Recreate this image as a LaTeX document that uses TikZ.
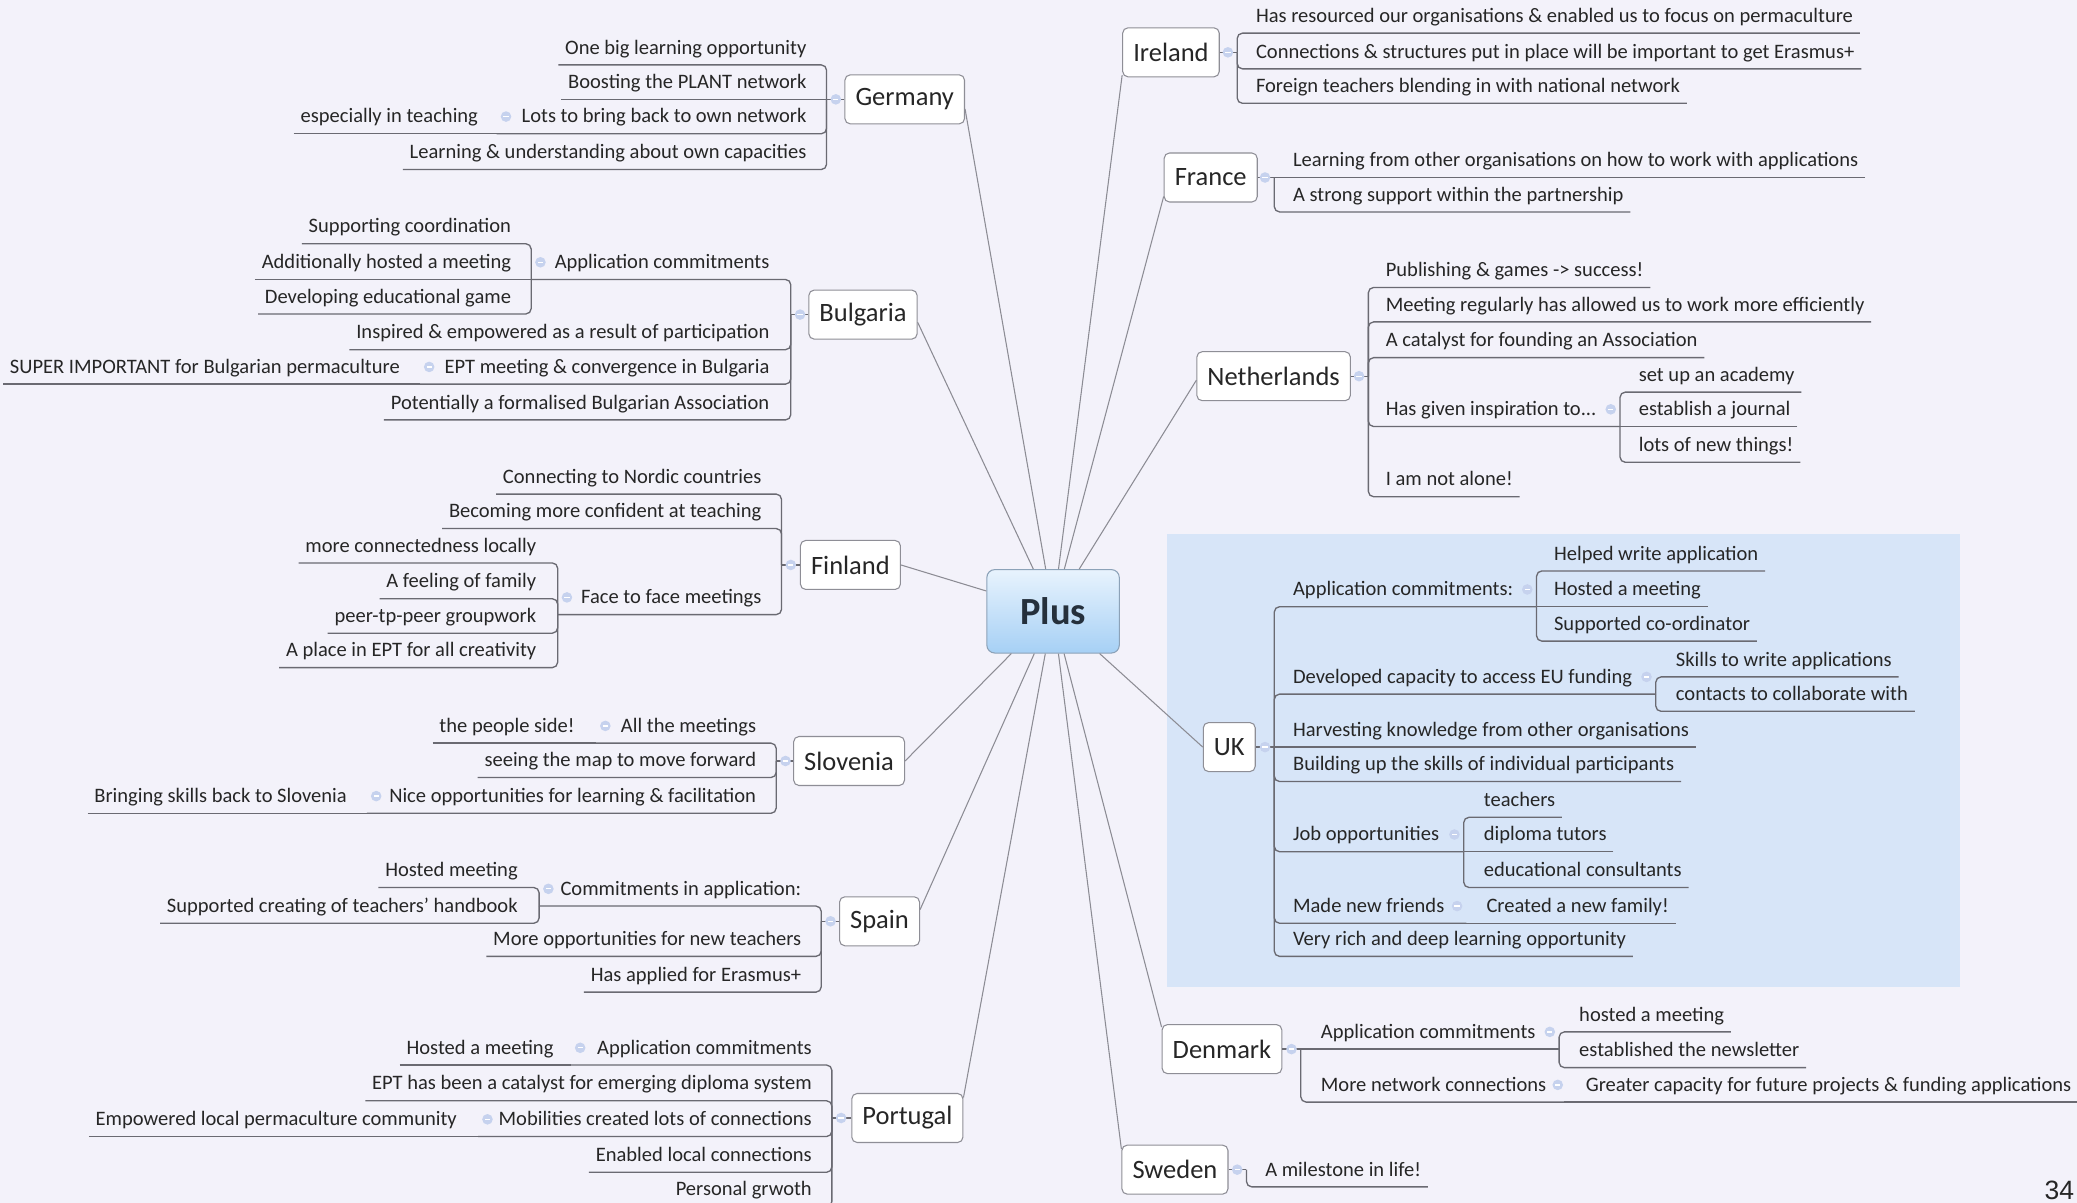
\documentclass[tikz,border=0pt]{standalone}
\usepackage{fontspec}
\setmainfont{Carlito}
\newfontfamily\pagefont{Liberation Sans}
\usepackage{tikz}

\definecolor{bg}{HTML}{F3F2FA}
\definecolor{area}{HTML}{D7E5F8}
\definecolor{txt}{HTML}{262626}
\definecolor{lnk}{HTML}{6A6A72}
\definecolor{spk}{HTML}{8C8C94}
\definecolor{boxline}{HTML}{8E8E96}
\definecolor{rootline}{HTML}{8CA2B8}
\definecolor{rootTop}{HTML}{E8F3FD}
\definecolor{rootBot}{HTML}{A6D0F5}
\definecolor{rootText}{HTML}{25303C}
\definecolor{foldfill}{HTML}{C6D2EE}

\tikzset{
  topic/.style={font=\fontsize{15.5}{18}\selectfont, text=txt, inner xsep=5pt, inner ysep=0pt, text height=11pt, text depth=8pt},
  ltopic/.style={topic, anchor=south east},
  rtopic/.style={topic, anchor=south west},
  country/.style={draw=boxline, fill=white, rounded corners=4pt, line width=0.8pt, font=\fontsize{20}{24}\selectfont, text=txt, inner xsep=8pt, minimum height=37pt},
  rootbox/.style={draw=rootline, line width=0.8pt, rounded corners=6pt, top color=rootTop, bottom color=rootBot, font=\fontsize{29}{34}\selectfont\bfseries, text=rootText, minimum width=100pt, minimum height=63pt},
  link/.style={draw=lnk, line width=1pt, rounded corners=4pt},
  spoke/.style={draw=spk, line width=0.8pt},
  foldicon/.style={circle, fill=foldfill, inner sep=0pt, minimum size=8pt, path picture={\draw[white, line width=1pt] ([xshift=-2pt]path picture bounding box.center) -- ([xshift=2pt]path picture bounding box.center);}},
  pagenum/.style={font=\pagefont\fontsize{20}{24}\selectfont, text=txt, inner sep=0pt}
}

\begin{document}
\begin{tikzpicture}[x=1pt,y=-1pt]
\useasboundingbox (0,0) rectangle (1568,908);
\fill[bg] (0,0) rectangle (1568,908);
\fill[area] (881,403) rectangle (1480,745);

\node[rootbox] (Plus) at (795,461.5) {Plus};

\path (683,75) node[country] (Germany) {Germany}
      (651.5,237.5) node[country] (Bulgaria) {Bulgaria}
      (642,426.5) node[country] (Finland) {Finland}
      (641,574.5) node[country] (Slovenia) {Slovenia}
      (664,695.5) node[country] (Spain) {Spain}
      (685,844) node[country] (Portugal) {Portugal}
      (884,39.5) node[country] (Ireland) {Ireland}
      (914,134) node[country] (France) {France}
      (961.5,284) node[country] (Netherlands) {Netherlands}
      (928,564) node[country] (UK) {UK}
      (922.5,792) node[country] (Denmark) {Denmark}
      (887,883) node[country] (Sweden) {Sweden};

\draw[spoke] (Plus) -- (Germany.351);
\draw[spoke] (Plus) -- (Bulgaria.352);
\draw[spoke] (Plus) -- (Finland.east);
\draw[spoke] (Plus) -- (Slovenia.east);
\draw[spoke] (Plus) -- (Spain.16);
\draw[spoke] (Plus) -- (Portugal.20);
\draw[spoke] (Plus) -- (Ireland.205);
\draw[spoke] (Plus) -- (France.202);
\draw[spoke] (Plus) -- (Netherlands.183);
\draw[spoke] (Plus) -- (UK.west);
\draw[spoke] (Plus) -- (Denmark.160);
\draw[spoke] (Plus) -- (Sweden.159);

\path (624,75) coordinate (jGer) (375,101) coordinate (jLots)
      (597,237.5) coordinate (jBul) (401,211) coordinate (jBApp) (317,290) coordinate (jBEPT)
      (590,426.5) coordinate (jFin) (421,464) coordinate (jFace)
      (586,574.5) coordinate (jSlo) (450,561) coordinate (jSlAll) (277,614) coordinate (jSlNice)
      (620,695.5) coordinate (jSpa) (407,684) coordinate (jSpCom)
      (628,844) coordinate (jPor) (431,804) coordinate (jPtApp) (361,858) coordinate (jPtMob)
      (934,39.5) coordinate (jIre) (962,134) coordinate (jFra)
      (1033,284) coordinate (jNet) (1223,322) coordinate (jNlHas)
      (962,564) coordinate (jUK) (1160,458) coordinate (jUkApp) (1250,524) coordinate (jUkDev)
      (1105,643) coordinate (jUkJob) (1107,697) coordinate (jUkMade)
      (982,792) coordinate (jDen) (1177,792) coordinate (jDkApp) (1181,832) coordinate (jDkMore)
      (941,883) coordinate (jSwe);

\path (614,49) node[ltopic] (gOne) {One big learning opportunity}
      (614,75) node[ltopic] (gBoost) {Boosting the PLANT network}
      (614,101) node[ltopic] (gLots) {Lots to bring back to own network}
      (366,101) node[ltopic] (gEsp) {especially in teaching}
      (614,128) node[ltopic] (gLearn) {Learning \& understanding about own capacities};

\path (586,211) node[ltopic] (bApp) {Application commitments}
      (391,184) node[ltopic] (bSup) {Supporting coordination}
      (391,211) node[ltopic] (bAdd) {Additionally hosted a meeting}
      (391,237) node[ltopic] (bDev) {Developing educational game}
      (586,264) node[ltopic] (bInsp) {Inspired \& empowered as a result of participation}
      (586,290) node[ltopic] (bEPT) {EPT meeting \& convergence in Bulgaria}
      (307,290) node[ltopic] (bSuper) {SUPER IMPORTANT for Bulgarian permaculture}
      (586,317) node[ltopic] (bPot) {Potentially a formalised Bulgarian Association};

\path (580,373) node[ltopic] (fConn) {Connecting to Nordic countries}
      (580,399) node[ltopic] (fBec) {Becoming more confident at teaching}
      (580,464) node[ltopic] (fFace) {Face to face meetings}
      (410,425) node[ltopic] (fMore) {more connectedness locally}
      (410,452) node[ltopic] (fFeel) {A feeling of family}
      (410,478) node[ltopic] (fPeer) {peer-tp-peer groupwork}
      (410,504) node[ltopic] (fPlace) {A place in EPT for all creativity};

\path (576,561) node[ltopic] (slAll) {All the meetings}
      (439,561) node[ltopic] (slPeople) {the people side!}
      (576,587) node[ltopic] (slSee) {seeing the map to move forward}
      (576,614) node[ltopic] (slNice) {Nice opportunities for learning \& facilitation}
      (267,614) node[ltopic] (slBring) {Bringing skills back to Slovenia};

\path (610,684) node[ltopic] (spCom) {Commitments in application:}
      (396,670) node[ltopic] (spHost) {Hosted meeting}
      (396,697) node[ltopic] (spSupp) {Supported creating of teachers' handbook}
      (610,722) node[ltopic] (spMore) {More opportunities for new teachers}
      (610,749) node[ltopic] (spHas) {Has applied for Erasmus+};

\path (618,804) node[ltopic] (ptApp) {Application commitments}
      (423,804) node[ltopic] (ptHost) {Hosted a meeting}
      (618,831) node[ltopic] (ptEPT) {EPT has been a catalyst for emerging diploma system}
      (618,858) node[ltopic] (ptMob) {Mobilities created lots of connections}
      (350,858) node[ltopic] (ptEmp) {Empowered local permaculture community}
      (618,885) node[ltopic] (ptEnab) {Enabled local connections}
      (618,911) node[ltopic] (ptPers) {Personal grwoth};

\path (943,25) node[rtopic] (irHas) {Has resourced our organisations \& enabled us to focus on permaculture}
      (943,52) node[rtopic] (irCon) {Connections \& structures put in place will be important to get Erasmus+}
      (943,78) node[rtopic] (irFor) {Foreign teachers blending in with national network};

\path (971,134) node[rtopic] (frLearn) {Learning from other organisations on how to work with applications}
      (971,160) node[rtopic] (frStrong) {A strong support within the partnership};

\path (1041,217) node[rtopic] (nlPub) {Publishing \& games -> success!}
      (1041,243) node[rtopic] (nlMeet) {Meeting regularly has allowed us to work more efficiently}
      (1041,270) node[rtopic] (nlCat) {A catalyst for founding an Association}
      (1041,322) node[rtopic] (nlHas) {Has given inspiration to...}
      (1232,296) node[rtopic] (nlSet) {set up an academy}
      (1232,322) node[rtopic] (nlEst) {establish a journal}
      (1232,349) node[rtopic] (nlLots) {lots of new things!}
      (1041,375) node[rtopic] (nlAlone) {I am not alone!};

\path (971,458) node[rtopic] (ukApp) {Application commitments:}
      (1168,431) node[rtopic] (ukHelp) {Helped write application}
      (1168,458) node[rtopic] (ukHost) {Hosted a meeting}
      (1168,484) node[rtopic] (ukSupp) {Supported co-ordinator}
      (971,524) node[rtopic] (ukDev) {Developed capacity to access EU funding}
      (1260,511) node[rtopic] (ukSkill) {Skills to write applications}
      (1260,537) node[rtopic] (ukCont) {contacts to collaborate with}
      (971,564) node[rtopic] (ukHarv) {Harvesting knowledge from other organisations}
      (971,590) node[rtopic] (ukBuild) {Building up the skills of individual participants}
      (971,643) node[rtopic] (ukJob) {Job opportunities}
      (1115,617) node[rtopic] (ukTeach) {teachers}
      (1115,643) node[rtopic] (ukDipl) {diploma tutors}
      (1115,670) node[rtopic] (ukEdu) {educational consultants}
      (971,697) node[rtopic] (ukMade) {Made new friends}
      (1117,697) node[rtopic] (ukCre) {Created a new family!}
      (971,722) node[rtopic] (ukVery) {Very rich and deep learning opportunity};

\path (992,792) node[rtopic] (dkApp) {Application commitments}
      (1187,779) node[rtopic] (dkHost) {hosted a meeting}
      (1187,806) node[rtopic] (dkEst) {established the newsletter}
      (992,832) node[rtopic] (dkMore) {More network connections}
      (1192,832) node[rtopic] (dkGreat) {Greater capacity for future projects \& funding applications};

\path (950,896) node[rtopic] (swMile) {A milestone in life!};

\draw[link] (Germany.west) -- (jGer);
\draw[link] (gOne.south west) -- (gOne.south west -| jGer) -- (jGer);
\draw[link] (gBoost.south west) -- (jGer);
\draw[link] (jLots) -- (jLots -| jGer) -- (jGer);
\draw[link] (gEsp.south west) -- (jLots);
\draw[link] (gLearn.south west) -- (gLearn.south west -| jGer) -- (jGer);

\draw[link] (Bulgaria.west) -- (jBul);
\draw[link] (jBApp) -- (jBApp -| jBul) -- (jBul);
\draw[link] (bSup.south west) -- (bSup.south west -| jBApp) -- (jBApp);
\draw[link] (bAdd.south west) -- (jBApp);
\draw[link] (bDev.south west) -- (bDev.south west -| jBApp) -- (jBApp);
\draw[link] (bInsp.south west) -- (bInsp.south west -| jBul) -- (jBul);
\draw[link] (jBEPT) -- (jBEPT -| jBul) -- (jBul);
\draw[link] (bSuper.south west) -- (jBEPT);
\draw[link] (bPot.south west) -- (bPot.south west -| jBul) -- (jBul);

\draw[link] (Finland.west) -- (jFin);
\draw[link] (fConn.south west) -- (fConn.south west -| jFin) -- (jFin);
\draw[link] (fBec.south west) -- (fBec.south west -| jFin) -- (jFin);
\draw[link] (jFace) -- (jFace -| jFin) -- (jFin);
\draw[link] (fMore.south west) -- (fMore.south west -| jFace) -- (jFace);
\draw[link] (fFeel.south west) -- (fFeel.south west -| jFace) -- (jFace);
\draw[link] (fPeer.south west) -- (fPeer.south west -| jFace) -- (jFace);
\draw[link] (fPlace.south west) -- (fPlace.south west -| jFace) -- (jFace);

\draw[link] (Slovenia.west) -- (jSlo);
\draw[link] (jSlAll) -- (jSlAll -| jSlo) -- (jSlo);
\draw[link] (slPeople.south west) -- (jSlAll);
\draw[link] (slSee.south west) -- (slSee.south west -| jSlo) -- (jSlo);
\draw[link] (jSlNice) -- (jSlNice -| jSlo) -- (jSlo);
\draw[link] (slBring.south west) -- (jSlNice);

\draw[link] (Spain.west) -- (jSpa);
\draw[link] (jSpCom) -- (jSpCom -| jSpa) -- (jSpa);
\draw[link] (spHost.south west) -- (spHost.south west -| jSpCom) -- (jSpCom);
\draw[link] (spSupp.south west) -- (spSupp.south west -| jSpCom) -- (jSpCom);
\draw[link] (spMore.south west) -- (spMore.south west -| jSpa) -- (jSpa);
\draw[link] (spHas.south west) -- (spHas.south west -| jSpa) -- (jSpa);

\draw[link] (Portugal.west) -- (jPor);
\draw[link] (jPtApp) -- (jPtApp -| jPor) -- (jPor);
\draw[link] (ptHost.south west) -- (jPtApp);
\draw[link] (ptEPT.south west) -- (ptEPT.south west -| jPor) -- (jPor);
\draw[link] (jPtMob) -- (jPtMob -| jPor) -- (jPor);
\draw[link] (ptEmp.south west) -- (jPtMob);
\draw[link] (ptEnab.south west) -- (ptEnab.south west -| jPor) -- (jPor);
\draw[link] (ptPers.south west) -- (ptPers.south west -| jPor) -- (jPor);

\draw[link] (Ireland.east) -- (jIre);
\draw[link] (irHas.south east) -- (irHas.south east -| jIre) -- (jIre);
\draw[link] (irCon.south east) -- (irCon.south east -| jIre) -- (jIre);
\draw[link] (irFor.south east) -- (irFor.south east -| jIre) -- (jIre);

\draw[link] (France.east) -- (jFra);
\draw[link] (frLearn.south east) -- (jFra);
\draw[link] (frStrong.south east) -- (frStrong.south east -| jFra) -- (jFra);

\draw[link] (Netherlands.east) -- (jNet);
\draw[link] (nlPub.south east) -- (nlPub.south east -| jNet) -- (jNet);
\draw[link] (nlMeet.south east) -- (nlMeet.south east -| jNet) -- (jNet);
\draw[link] (nlCat.south east) -- (nlCat.south east -| jNet) -- (jNet);
\draw[link] (jNlHas) -- (jNlHas -| jNet) -- (jNet);
\draw[link] (nlSet.south east) -- (nlSet.south east -| jNlHas) -- (jNlHas);
\draw[link] (nlEst.south east) -- (jNlHas);
\draw[link] (nlLots.south east) -- (nlLots.south east -| jNlHas) -- (jNlHas);
\draw[link] (nlAlone.south east) -- (nlAlone.south east -| jNet) -- (jNet);

\draw[link] (UK.east) -- (jUK);
\draw[link] (jUkApp) -- (jUkApp -| jUK) -- (jUK);
\draw[link] (ukHelp.south east) -- (ukHelp.south east -| jUkApp) -- (jUkApp);
\draw[link] (ukHost.south east) -- (jUkApp);
\draw[link] (ukSupp.south east) -- (ukSupp.south east -| jUkApp) -- (jUkApp);
\draw[link] (jUkDev) -- (jUkDev -| jUK) -- (jUK);
\draw[link] (ukSkill.south east) -- (ukSkill.south east -| jUkDev) -- (jUkDev);
\draw[link] (ukCont.south east) -- (ukCont.south east -| jUkDev) -- (jUkDev);
\draw[link] (ukHarv.south east) -- (jUK);
\draw[link] (ukBuild.south east) -- (ukBuild.south east -| jUK) -- (jUK);
\draw[link] (jUkJob) -- (jUkJob -| jUK) -- (jUK);
\draw[link] (ukTeach.south east) -- (ukTeach.south east -| jUkJob) -- (jUkJob);
\draw[link] (ukDipl.south east) -- (jUkJob);
\draw[link] (ukEdu.south east) -- (ukEdu.south east -| jUkJob) -- (jUkJob);
\draw[link] (jUkMade) -- (jUkMade -| jUK) -- (jUK);
\draw[link] (ukCre.south east) -- (jUkMade);
\draw[link] (ukVery.south east) -- (ukVery.south east -| jUK) -- (jUK);

\draw[link] (Denmark.east) -- (jDen);
\draw[link] (jDkApp) -- (jDen);
\draw[link] (dkHost.south east) -- (dkHost.south east -| jDkApp) -- (jDkApp);
\draw[link] (dkEst.south east) -- (dkEst.south east -| jDkApp) -- (jDkApp);
\draw[link] (jDkMore) -- (jDkMore -| jDen) -- (jDen);
\draw[link] (dkGreat.south east) -- (jDkMore);

\draw[link] (Sweden.east) -- (jSwe);
\draw[link] (swMile.south east) -- (swMile.south east -| jSwe) -- (jSwe);

\path (631,75) node[foldicon] (fGer) {} (382,88) node[foldicon] (fLots) {}
      (604,237.5) node[foldicon] (fBul) {} (408,198) node[foldicon] (fBApp) {} (324,277) node[foldicon] (fBEPT) {}
      (597,426.5) node[foldicon] (fFin) {} (428,451) node[foldicon] (fFace) {}
      (593,574.5) node[foldicon] (fSlo) {} (457,548) node[foldicon] (fSlAll) {} (284,601) node[foldicon] (fSlNice) {}
      (627,695.5) node[foldicon] (fSpa) {} (414,671) node[foldicon] (fSpCom) {}
      (635,844) node[foldicon] (fPor) {} (438,791) node[foldicon] (fPtApp) {} (368,845) node[foldicon] (fPtMob) {}
      (927,39.5) node[foldicon] (fIre) {} (955,134) node[foldicon] (fFra) {}
      (1026,284) node[foldicon] (fNet) {} (1216,309) node[foldicon] (fNlHas) {}
      (955,564) node[foldicon] (fUK) {} (1153,445) node[foldicon] (fUkApp) {} (1243,511) node[foldicon] (fUkDev) {}
      (1098,630) node[foldicon] (fUkJob) {} (1100,684) node[foldicon] (fUkMade) {}
      (975,792) node[foldicon] (fDen) {} (1170,779) node[foldicon] (fDkApp) {} (1176,819) node[foldicon] (fDkMore) {}
      (934,883) node[foldicon] (fSwe) {};

\node[pagenum, anchor=south east] (page) at (1566,906) {34};
\end{tikzpicture}
\end{document}
